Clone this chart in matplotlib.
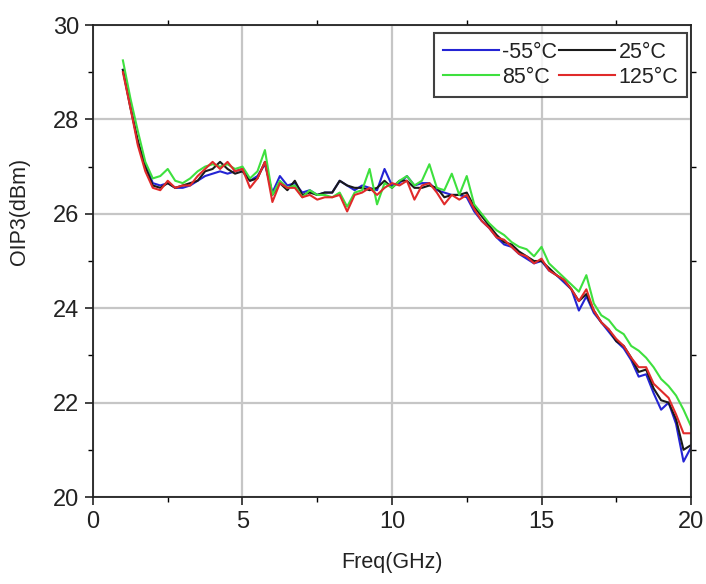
import matplotlib
matplotlib.use("Agg")
import matplotlib.pyplot as plt
from matplotlib.ticker import MultipleLocator

plt.rcParams['font.family'] = ['Liberation Sans', 'DejaVu Sans']

freq = [1.00, 1.25, 1.50, 1.75, 2.00, 2.25, 2.50, 2.75, 3.00, 3.25, 3.50, 3.75,
        4.00, 4.25, 4.50, 4.75, 5.00, 5.25, 5.50, 5.75, 6.00, 6.25, 6.50, 6.75,
        7.00, 7.25, 7.50, 7.75, 8.00, 8.25, 8.50, 8.75, 9.00, 9.25, 9.50, 9.75,
        10.00, 10.25, 10.50, 10.75, 11.00, 11.25, 11.50, 11.75, 12.00, 12.25, 12.50, 12.75,
        13.00, 13.25, 13.50, 13.75, 14.00, 14.25, 14.50, 14.75, 15.00, 15.25, 15.50, 15.75,
        16.00, 16.25, 16.50, 16.75, 17.00, 17.25, 17.50, 17.75, 18.00, 18.25, 18.50, 18.75,
        19.00, 19.25, 19.50, 19.75, 20.00]

oip3_m55 = [29.05, 28.30, 27.50, 27.05, 26.65, 26.60, 26.65, 26.55,
            26.55, 26.60, 26.70, 26.80, 26.85, 26.90, 26.85, 26.90,
            26.95, 26.70, 26.80, 27.05, 26.45, 26.80, 26.60, 26.65,
            26.45, 26.50, 26.40, 26.45, 26.45, 26.70, 26.60, 26.50,
            26.60, 26.55, 26.50, 26.95, 26.60, 26.65, 26.80, 26.60,
            26.65, 26.65, 26.50, 26.45, 26.40, 26.40, 26.35, 26.05,
            25.85, 25.70, 25.50, 25.35, 25.30, 25.15, 25.05, 24.95,
            25.00, 24.80, 24.70, 24.55, 24.40, 23.95, 24.25, 23.90,
            23.70, 23.50, 23.30, 23.15, 22.90, 22.55, 22.60, 22.20,
            21.85, 22.00, 21.55, 20.75, 21.05]

oip3_25 = [29.05, 28.25, 27.55, 27.00, 26.60, 26.55, 26.65, 26.55,
           26.60, 26.65, 26.70, 26.90, 26.95, 27.10, 26.95, 26.85,
           26.90, 26.70, 26.75, 27.10, 26.40, 26.65, 26.50, 26.70,
           26.40, 26.45, 26.40, 26.45, 26.45, 26.70, 26.60, 26.55,
           26.55, 26.50, 26.55, 26.70, 26.55, 26.70, 26.70, 26.55,
           26.55, 26.60, 26.55, 26.35, 26.40, 26.40, 26.45, 26.15,
           25.95, 25.75, 25.55, 25.40, 25.35, 25.20, 25.10, 25.00,
           25.00, 24.85, 24.70, 24.60, 24.40, 24.15, 24.30, 23.95,
           23.70, 23.55, 23.30, 23.20, 22.95, 22.65, 22.70, 22.30,
           22.05, 22.00, 21.65, 21.00, 21.10]

oip3_85 = [29.25, 28.45, 27.75, 27.10, 26.75, 26.80, 26.95, 26.70,
           26.65, 26.75, 26.90, 27.00, 27.05, 27.00, 27.05, 26.95,
           27.00, 26.75, 26.90, 27.35, 26.40, 26.70, 26.55, 26.60,
           26.35, 26.50, 26.40, 26.40, 26.35, 26.45, 26.15, 26.45,
           26.50, 26.95, 26.20, 26.65, 26.55, 26.70, 26.80, 26.60,
           26.70, 27.05, 26.55, 26.50, 26.85, 26.40, 26.80, 26.20,
           26.00, 25.80, 25.65, 25.55, 25.40, 25.30, 25.25, 25.10,
           25.30, 24.95, 24.80, 24.65, 24.50, 24.35, 24.70, 24.10,
           23.85, 23.75, 23.55, 23.45, 23.20, 23.10, 22.95, 22.75,
           22.50, 22.35, 22.15, 21.85, 21.50]

oip3_125 = [29.00, 28.25, 27.45, 26.90, 26.55, 26.50, 26.70, 26.55,
            26.60, 26.60, 26.80, 26.95, 27.10, 26.95, 27.10, 26.90,
            26.95, 26.55, 26.75, 27.10, 26.25, 26.65, 26.55, 26.55,
            26.35, 26.40, 26.30, 26.35, 26.35, 26.40, 26.05, 26.40,
            26.45, 26.55, 26.40, 26.55, 26.65, 26.60, 26.70, 26.30,
            26.60, 26.65, 26.45, 26.20, 26.40, 26.30, 26.40, 26.10,
            25.85, 25.70, 25.50, 25.45, 25.30, 25.15, 25.10, 24.95,
            25.05, 24.80, 24.70, 24.60, 24.40, 24.15, 24.40, 23.95,
            23.70, 23.55, 23.35, 23.20, 22.95, 22.75, 22.75, 22.40,
            22.25, 22.10, 21.75, 21.35, 21.35]

labels = ['-55°C', '25°C', '85°C', '125°C']
colors = ['#2424d4', '#1a1a1a', '#3ee03e', '#e02a2a']
series = [oip3_m55, oip3_25, oip3_85, oip3_125]

fig = plt.figure(figsize=(7.06, 5.84), dpi=100)
ax = fig.add_axes([93/706, 1-497/584, (691-93)/706, (497-25)/584])

handles = {}
for ys, c, lab in zip(series, colors, labels):
    h, = ax.plot(freq, ys, color=c, lw=1.5, label=lab)
    handles[lab] = h

ax.set_xlim(0, 20)
ax.set_ylim(20, 30)
ax.xaxis.set_major_locator(MultipleLocator(5))
ax.xaxis.set_minor_locator(MultipleLocator(2.5))
ax.yaxis.set_major_locator(MultipleLocator(2))
ax.yaxis.set_minor_locator(MultipleLocator(1))

ax.grid(True, which='major', color='#c6c6c6', lw=1.6)
ax.set_axisbelow(True)

ax.tick_params(which='major', direction='out', length=6, width=1.2, labelsize=17,
               colors='#222222', top=False, right=False, pad=4)
ax.tick_params(which='minor', direction='out', length=3.5, width=1.0,
               top=True, right=True)
for s in ax.spines.values():
    s.set_linewidth(1.3)
    s.set_color('#222222')

ax.set_xlabel('Freq(GHz)', fontsize=15.5, color='#222222', labelpad=14)
ax.set_ylabel('OIP3(dBm)', fontsize=15.5, color='#222222')
ax.yaxis.set_label_coords(-0.105, 0.604)

order = ['-55°C', '85°C', '25°C', '125°C']
leg = ax.legend([handles[k] for k in order], order, ncol=2, loc='upper right',
                bbox_to_anchor=(0.993, 0.983),
                fontsize=15.5, frameon=True, fancybox=False, edgecolor='#111111',
                handlelength=2.6, handletextpad=0.15, columnspacing=0.1,
                borderpad=0.4, labelspacing=0.2, borderaxespad=0.0)
leg.get_frame().set_linewidth(1.5)
for t in leg.get_texts():
    t.set_color('#222222')

fig.savefig('out.png', dpi=100)
